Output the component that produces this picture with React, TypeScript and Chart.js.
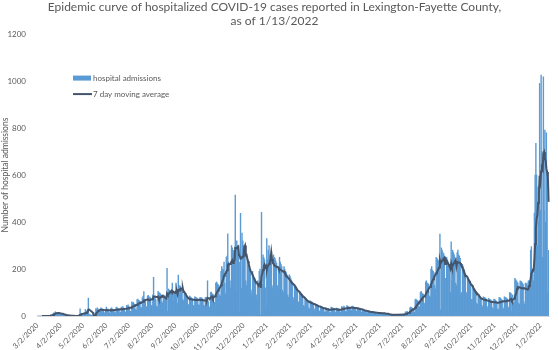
import React, { useEffect, useRef } from "react";
import { Chart, registerables } from "chart.js";

Chart.register(...registerables);

// Daily hospital admissions, one array per calendar month (first day: 3/2/2020)
const mar20 = [0,0,0,0,0,0,0, 0,0,0,0,0,0,0, 0,2,1,3,5,4,6, 10,14,12,18,15,9,8, 13,12];
const apr20 = [11,9,10,6,5, 5,4,3,2,3,1,2, 1,2,1,0,1,0,0, 0,1,0,1,0,0,2, 4,30,8,12];
const may20 = [6,3,2, 15,28,20,22,25,76,4, 8,3,4,2,3,1,2, 15,32,28,35,30,18,12, 30,35,28,30,26,15,12];
const jun20 = [28,38,25,30,22,14,10, 32,35,30,28,27,15,13, 36,38,33,30,32,14,16, 38,36,40,34,30,18,16, 45,42];
const jul20 = [48,40,36,20,18, 60,55,58,52,50,28,25, 70,72,66,65,62,35,36, 78,85,104,70,68,40,38, 85,88,80,82,76];
const aug20 = [45,42, 90,165,82,78,70,42,38, 105,100,98,95,90,60,55, 90,88,82,80,70,203,20, 115,110,108,102,95,140,60, 100];
const sep20 = [95,105,140,100,55,174, 90,130,125,120,115,70,65, 95,90,85,80,78,50,45, 85,82,80,75,72,45,42, 82,80,78];
const oct20 = [76,74,48,45, 80,76,78,74,70,45,42, 78,80,76,150,60,40,35, 100,102,95,92,90,58,55, 140,145,138,135,130,90];
const nov20 = [85, 190,210,200,195,230,140,95, 250,255,350,230,220,150,120, 300,290,270,280,250,515,111, 320,300,290,20,230,437,118, 353];
const dec20 = [320,300,290,280,150,130, 250,230,215,200,185,110,95, 190,175,165,150,145,90,65, 150,140,190,200,5,441,134, 260,250,240,120];
const jan21 = [40,330,240, 280,300,260,250,240,130,120, 260,250,245,235,225,130,115, 200,250,230,220,210,110,100, 210,200,190,185,175,90,80];
const feb21 = [175,170,160,150,145,80,70, 135,130,125,120,110,60,55, 105,100,95,90,85,45,40, 80,75,70,68,65,35,30];
const mar21 = [65,62,60,58,55,30,25, 52,50,48,46,44,22,20, 42,40,38,36,35,18,16, 35,33,32,30,28,14,15, 38,36,35];
const apr21 = [32,30,18,15, 34,32,30,30,28,18,16, 40,38,36,42,34,20,18, 44,42,40,38,36,26,24, 42,40,38,36,35];
const may21 = [22,20, 36,35,33,32,30,18,16, 28,26,25,24,22,14,12, 22,20,19,18,18,11,10, 18,17,16,15,15,9,8, 10];
const jun21 = [16,15,14,13,8,7, 12,12,11,10,10,5,4, 7,6,6,5,5,3,2, 7,6,6,5,5,3,3, 8,7,8];
const jul21 = [7,6,3,2, 10,18,16,20,18,10,8, 35,38,36,34,32,18,16, 70,72,68,66,64,40,38, 100,105,98,95,92,55];
const aug21 = [50, 145,150,140,138,135,85,80, 200,210,195,190,185,130,115, 250,245,240,235,230,349,26, 290,280,270,265,255,160,160, 250,240];
const sep21 = [230,220,210,100,316, 150,280,270,260,250,140,130, 270,281,260,255,245,90,100, 220,210,200,190,180,100,90, 165,160,155,150];
const oct21 = [140,70,70, 120,118,115,110,100,55,50, 90,88,85,80,78,45,38, 82,80,78,75,72,40,30, 75,72,70,68,65,35,30];
const nov21 = [72,70,68,64,60,30,28, 80,78,75,70,68,35,30, 82,80,78,75,72,38,32, 100,98,95,20,90,60,55, 160,155];
const dec21 = [150,145,140,55,50, 150,148,145,140,135,60,50, 140,135,140,130,150,150,120, 280,295,200,180,150,438,600, 735,600,300,550,400];
const jan22 = [990,450, 1025,700,250,1018,450,791,400, 780,600,100,280];

const monthTickLabels = [
  "3/2/2020","4/2/2020","5/2/2020","6/2/2020","7/2/2020","8/2/2020","9/2/2020",
  "10/2/2020","11/2/2020","12/2/2020","1/2/2021","2/2/2021","3/2/2021","4/2/2021",
  "5/2/2021","6/2/2021","7/2/2021","8/2/2021","9/2/2021","10/2/2021","11/2/2021",
  "12/2/2021","1/2/2022",
];

const titleLines = [
  "Epidemic curve of hospitalized COVID-19 cases reported in Lexington-Fayette County,",
  "as of 1/13/2022",
];

const admissions = [
  ...mar20, ...apr20, ...may20, ...jun20, ...jul20, ...aug20, ...sep20, ...oct20,
  ...nov20, ...dec20, ...jan21, ...feb21, ...mar21, ...apr21, ...may21, ...jun21,
  ...jul21, ...aug21, ...sep21, ...oct21, ...nov21, ...dec21, ...jan22,
];

const categories = admissions.map((_, i) => {
  const d = new Date(2020, 2, 2 + i);
  return `${d.getMonth() + 1}/${d.getDate()}/${d.getFullYear()}`;
});

const movingAverage = admissions.map((_, i) => {
  if (i < 6) return null;
  let s = 0;
  for (let k = i - 6; k <= i; k++) s += admissions[k];
  return s / 7;
});

const FONT = "Lato";
const TEXT = "#595959";
const BAR = "#5B9BD5";
const LINE = "#44546A";

const insetLegend = {
  id: "insetLegend",
  afterDraw(chart: any) {
    const { ctx, chartArea } = chart;
    const x = chartArea.left + 36;
    const y1 = chartArea.top + 44;
    const y2 = chartArea.top + 60;
    ctx.save();
    ctx.fillStyle = BAR;
    ctx.fillRect(x, y1 - 2.5, 18, 5);
    ctx.strokeStyle = LINE;
    ctx.lineWidth = 2;
    ctx.beginPath();
    ctx.moveTo(x, y2);
    ctx.lineTo(x + 19, y2);
    ctx.stroke();
    ctx.fillStyle = TEXT;
    ctx.font = `8px ${FONT}`;
    ctx.textBaseline = "middle";
    ctx.textAlign = "left";
    ctx.fillText(chart.data.datasets[1].label, x + 20, y1);
    ctx.fillText(chart.data.datasets[0].label, x + 20, y2);
    ctx.restore();
  },
};

export default function App() {
  const ref = useRef<HTMLCanvasElement | null>(null);
  useEffect(() => {
    document.body.style.margin = "0";
    const chart = new Chart(ref.current as HTMLCanvasElement, {
      type: "bar",
      data: {
        labels: categories,
        datasets: [
          {
            type: "line",
            label: "7 day moving average",
            data: movingAverage,
            borderColor: LINE,
            borderWidth: 2,
            pointRadius: 0,
            tension: 0,
            order: 0,
          } as any,
          {
            type: "bar",
            label: "hospital admissions",
            data: admissions,
            backgroundColor: BAR,
            barPercentage: 1,
            categoryPercentage: 1,
            order: 1,
          } as any,
        ],
      },
      options: {
        animation: false,
        responsive: true,
        maintainAspectRatio: false,
        layout: { padding: { left: 0, right: 9, top: 0, bottom: 0 } },
        plugins: {
          legend: { display: false },
          tooltip: { enabled: false },
          title: {
            display: true,
            text: titleLines,
            color: TEXT,
            font: { family: FONT, size: 12, weight: "normal", lineHeight: 1.17 },
            padding: { top: 0, bottom: 6 },
          },
        },
        scales: {
          x: {
            type: "category",
            offset: true,
            grid: { display: false, drawTicks: false },
            border: { display: true, color: "#D9D9D9" },
            ticks: {
              autoSkip: false,
              maxRotation: 45,
              minRotation: 45,
              padding: 5,
              color: TEXT,
              font: { family: FONT, size: 7.5 },
              callback: (_v: any, idx: number) =>
                monthTickLabels.includes(categories[idx]) ? categories[idx] : null,
            },
            afterFit: (s: any) => {
              s.height = 34;
            },
          },
          y: {
            min: 0,
            max: 1200,
            grid: { display: false, drawTicks: false },
            border: { display: false },
            ticks: {
              stepSize: 200,
              padding: 11,
              color: TEXT,
              font: { family: FONT, size: 8 },
              callback: (v: any) => String(v),
            },
            title: {
              display: true,
              text: "Number of hospital admissions",
              color: TEXT,
              font: { family: FONT, size: 8.5 },
              padding: 0,
            },
            afterFit: (s: any) => {
              s.width = 37;
            },
          },
        },
      },
      plugins: [insetLegend],
    } as any);
    return () => chart.destroy();
  }, []);
  return (
    <div style={{ width: 558, height: 350, position: "relative" }}>
      <canvas ref={ref} />
    </div>
  );
}
